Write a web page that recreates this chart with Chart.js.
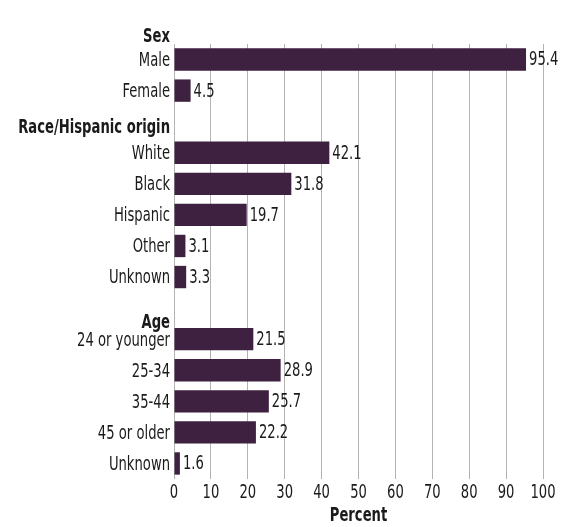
<!DOCTYPE html>
<html>
<head>
<meta charset="utf-8">
<script src="https://cdn.jsdelivr.net/npm/chart.js@4/dist/chart.umd.min.js"></script>
<style>
  html, body { margin: 0; padding: 0; background: #fff; }
  #wrap { width: 569px; height: 527px; position: relative; }
</style>
</head>
<body>
<div id="wrap"><canvas id="grafico"></canvas></div>
<script>
// categorie (righe vuote = spazio per le intestazioni di gruppo)
const categorie = ['Male', 'Female', '', 'White', 'Black', 'Hispanic', 'Other', 'Unknown', '',
  '24 or younger', '25-34', '35-44', '45 or older', 'Unknown'];
const valori = [95.4, 4.5, null, 42.1, 31.8, 19.7, 3.1, 3.3, null, 21.5, 28.9, 25.7, 22.2, 1.6];
const etichetteValori = ['95.4', '4.5', '', '42.1', '31.8', '19.7', '3.1', '3.3', '', '21.5', '28.9', '25.7', '22.2', '1.6'];
const gruppi = ['Sex', 'Race/Hispanic origin', 'Age'];
const tickX = [0, 10, 20, 30, 40, 50, 60, 70, 80, 90, 100];
const titoloX = 'Percent';

const FONT = "'DejaVu Sans Condensed', 'DejaVu Sans', sans-serif";
const DIM = 19;
const STRETTO = 0.77; // compressione orizzontale del testo
const COLORE = '#3e2140';
const TESTO = '#1a1a1a';

// intestazioni dei gruppi: riga di riferimento e scostamento verticale
const posGruppi = [
  { riga: 0, dy: -22 },
  { riga: 2, dy: 6 },
  { riga: 9, dy: -16 }
];

function testoStretto(ctx, testo, x, y, align) {
  ctx.save();
  ctx.translate(x, y);
  ctx.scale(STRETTO, 1);
  ctx.textAlign = align;
  ctx.fillText(testo, 0, 0);
  ctx.restore();
}

// le etichette degli assi vengono disegnate compresse
function etichetteStrette(scale) {
  if (scale._stretto) return;
  scale._stretto = true;
  scale.drawLabels = function (area) {
    const ctx = this.ctx;
    const items = this.getLabelItems(area);
    items.forEach((it, i) => {
      const o = it.options;
      let px = o.translation[0];
      let py = o.translation[1];
      if (this.isHorizontal()) px = this.getPixelForValue(this.ticks[i].value);
      ctx.save();
      ctx.translate(px, py);
      ctx.scale(STRETTO, 1);
      ctx.font = it.font.string;
      ctx.fillStyle = o.color;
      ctx.textAlign = this.isHorizontal() ? 'center' : o.textAlign;
      ctx.textBaseline = o.textBaseline;
      ctx.fillText(it.label, 0, it.textOffset);
      ctx.restore();
    });
  };
}

const pluginTesti = {
  id: 'testi',
  afterDatasetsDraw(chart) {
    const ctx = chart.ctx;
    const x = chart.scales.x;
    const y = chart.scales.y;
    ctx.save();
    ctx.fillStyle = TESTO;
    ctx.textBaseline = 'middle';
    ctx.font = DIM + 'px ' + FONT;
    valori.forEach((v, i) => {
      if (v === null) return;
      testoStretto(ctx, etichetteValori[i], x.getPixelForValue(v) + 3, y.getPixelForValue(i) + 1, 'left');
    });
    ctx.font = 'bold ' + DIM + 'px ' + FONT;
    gruppi.forEach((g, i) => {
      const p = posGruppi[i];
      testoStretto(ctx, g, y.right - 4, y.getPixelForValue(p.riga) + p.dy, 'right');
    });
    testoStretto(ctx, titoloX, (x.left + x.right) / 2, x.bottom - 11, 'center');
    ctx.restore();
  }
};

const canvas = document.getElementById('grafico').getContext('2d');
const grafico = new Chart(canvas, {
  type: 'bar',
  data: {
    labels: categorie,
    datasets: [{
      data: valori,
      backgroundColor: COLORE,
      borderWidth: 0,
      barPercentage: 0.72,
      categoryPercentage: 1
    }]
  },
  options: {
    indexAxis: 'y',
    responsive: true,
    maintainAspectRatio: false,
    animation: false,
    layout: { padding: { top: 44, right: 26, left: 0, bottom: 0 } },
    plugins: {
      legend: { display: false },
      tooltip: { enabled: false }
    },
    scales: {
      x: {
        type: 'linear',
        position: 'bottom',
        min: 0,
        max: 100,
        afterBuildTicks: (s) => { s.ticks = tickX.map(v => ({ value: v })); },
        afterFit: (s) => { s.height = 48; },
        afterUpdate: etichetteStrette,
        grid: { color: '#b3b3b3', lineWidth: 1, drawTicks: false },
        border: { display: false },
        ticks: { color: TESTO, padding: 3, font: { family: FONT, size: DIM } }
      },
      y: {
        afterFit: (s) => { s.width = 174; },
        afterUpdate: etichetteStrette,
        grid: { display: false, drawTicks: false },
        border: { display: false },
        ticks: {
          color: TESTO,
          padding: 4,
          labelOffset: 1.5,
          autoSkip: false,
          font: { family: FONT, size: DIM }
        }
      }
    }
  },
  plugins: [pluginTesti]
});
</script>
</body>
</html>
